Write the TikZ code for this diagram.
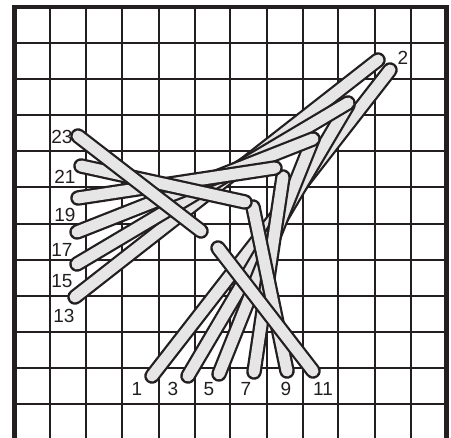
\documentclass[tikz,border=0pt]{standalone}
\usepackage{fontspec}
\setmainfont{Liberation Sans}
\definecolor{ink}{HTML}{231F20}
\definecolor{thread}{HTML}{E6E6E6}
\tikzset{
  gridline/.style={draw=ink,line width=1.9pt},
  frameline/.style={draw=ink,line width=4.6pt},
  lab/.style={inner sep=0pt,text=ink,font=\fontsize{19}{19}\selectfont},
}
\newcommand{\stitch}[2]{%
  \draw[ink,line width=15.5pt,line cap=round] (#1) -- (#2);
  \draw[thread,line width=11pt,line cap=round] (#1) -- (#2);
}
\begin{document}
\begin{tikzpicture}[x=1pt,y=-1pt]
\useasboundingbox (0,0) rectangle (451,438);
\fill[white] (0,0) rectangle (451,438);
\foreach \x in {50.3,86.3,122.4,158.6,195,230,266.7,302.7,338.4,374.7,411}
  \draw[gridline] (\x,7) -- (\x,438);
\foreach \y in {43.3,79.3,115.3,151.3,187.3,224,259.7,295.7,331.7,367.7,403.7}
  \draw[gridline] (14,\y) -- (447,\y);
\draw[frameline] (14.3,438) -- (14.3,7.2) -- (446.6,7.2) -- (446.6,438);
\stitch{152,376}{390,70}
\stitch{188,376}{348,105}
\stitch{219,374}{313,139}
\stitch{254,372}{283,177}
\stitch{287,371}{253,207}
\stitch{313,371}{218,248}
\stitch{75,297}{378,60}
\stitch{77,264}{348,103}
\stitch{77,232}{313,139}
\stitch{78,198}{275,168}
\stitch{81,166}{245,202}
\stitch{78,136}{201,231}
\node[lab] (n1) at (137,389) {1};
\node[lab] (n2) at (403,58) {2};
\node[lab] (n3) at (173,389) {3};
\node[lab] (n5) at (209,389) {5};
\node[lab] (n7) at (246,389) {7};
\node[lab] (n9) at (286,389) {9};
\node[lab] (n11) at (323,389) {11};
\node[lab] (n13) at (64,316) {13};
\node[lab] (n15) at (62,281) {15};
\node[lab] (n17) at (62,250) {17};
\node[lab] (n19) at (65,215) {19};
\node[lab] (n21) at (65,177) {21};
\node[lab] (n23) at (62,137) {23};
\end{tikzpicture}
\end{document}
